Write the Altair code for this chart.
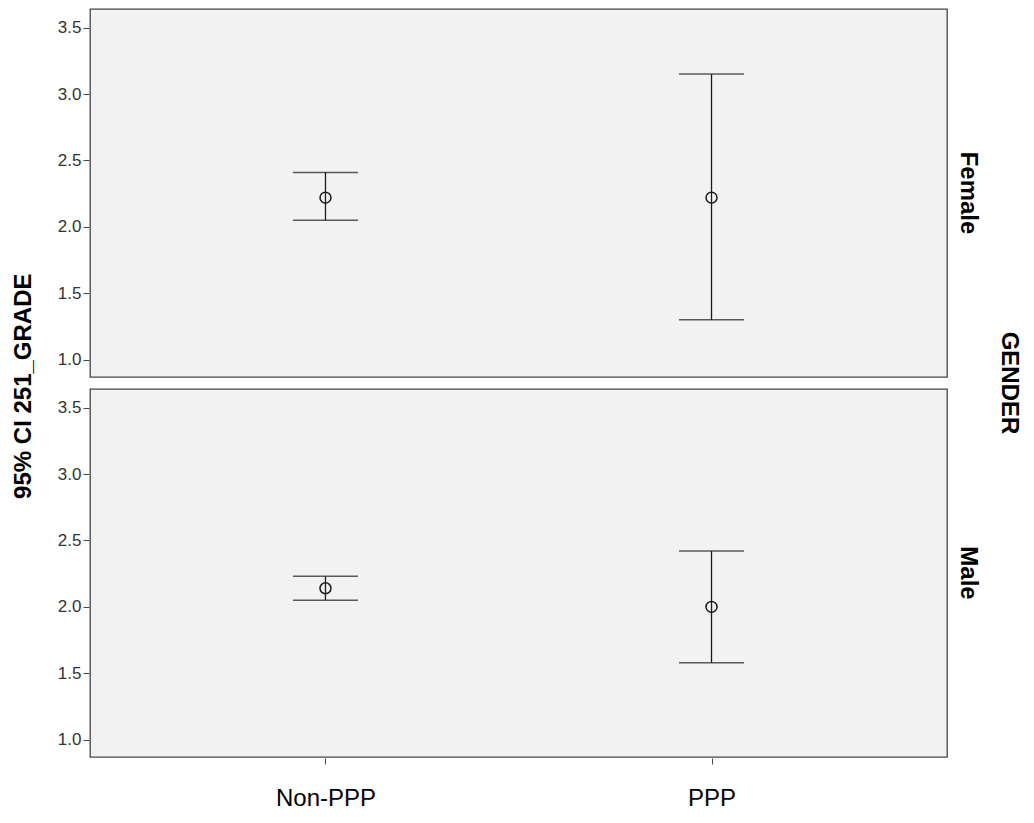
import altair as alt
import pandas as pd

genders = ["Female", "Female", "Male", "Male"]
groups = ["Non-PPP", "PPP", "Non-PPP", "PPP"]
means = [2.22, 2.22, 2.14, 2.00]
lowers = [2.05, 1.30, 2.05, 1.58]
uppers = [2.41, 3.15, 2.23, 2.42]
y_ticks = [1.0, 1.5, 2.0, 2.5, 3.0, 3.5]

df = pd.DataFrame({"GENDER": genders, "group": groups, "mean": means,
                   "lower": lowers, "upper": uppers})

FONT = "Liberation Sans"
INK = "#1a1a1a"

xenc = alt.X("group:N", sort=["Non-PPP", "PPP"],
             scale=alt.Scale(type="point", padding=0.61),
             axis=alt.Axis(title=None, labelAngle=0, labelFontSize=24, labelColor="#000",
                           labelPadding=22, tickSize=6, tickColor="#444", domain=False,
                           labelFont=FONT))
yscale = alt.Scale(domain=[0.87, 3.64], nice=False, zero=False)
yaxis = alt.Axis(title=None, values=y_ticks, format=".1f", grid=False,
                 domain=False, tickSize=6, tickColor="#444", labelFontSize=17,
                 labelColor="#333", labelFont=FONT, labelPadding=2)

rule = alt.Chart().mark_rule(color=INK, strokeWidth=1.3).encode(
    x=xenc,
    y=alt.Y("lower:Q", scale=yscale, axis=yaxis),
    y2="upper:Q",
)
cap_lo = alt.Chart().mark_tick(color=INK, size=65, thickness=1.5).encode(
    x=xenc, y=alt.Y("lower:Q", scale=yscale, axis=yaxis))
cap_hi = alt.Chart().mark_tick(color=INK, size=65, thickness=1.5).encode(
    x=xenc, y=alt.Y("upper:Q", scale=yscale, axis=yaxis))
pt = alt.Chart().mark_point(color=INK, filled=False, size=120, strokeWidth=1.5,
                            shape="circle", opacity=1).encode(
    x=xenc, y=alt.Y("mean:Q", scale=yscale, axis=yaxis))

chart = alt.layer(rule, cap_lo, cap_hi, pt, data=df).properties(
    width=857, height=368
).facet(
    row=alt.Row("GENDER:N", sort=["Female", "Male"],
                header=alt.Header(title="GENDER", titleOrient="right", labelOrient="right",
                                  labelAngle=90, titleAngle=90, labelFontSize=24,
                                  labelFontWeight="bold", labelFont=FONT, titleFont=FONT,
                                  titleFontSize=24, titleFontWeight="bold",
                                  labelColor="#000", titleColor="#000",
                                  labelPadding=8, titlePadding=7))
).properties(
    spacing=10,
    title=alt.TitleParams(text="95% CI 251_GRADE", orient="left", anchor="middle",
                          font=FONT, fontSize=24, fontWeight="bold", color="#000",
                          offset=21, dx=23),
    padding={"left": 4, "top": 0, "right": 3, "bottom": 0}
).configure_view(
    fill="#f2f2f2", stroke="#444", strokeWidth=1.3
)

chart.save("out.html", embed_options={"renderer": "svg", "actions": False})
